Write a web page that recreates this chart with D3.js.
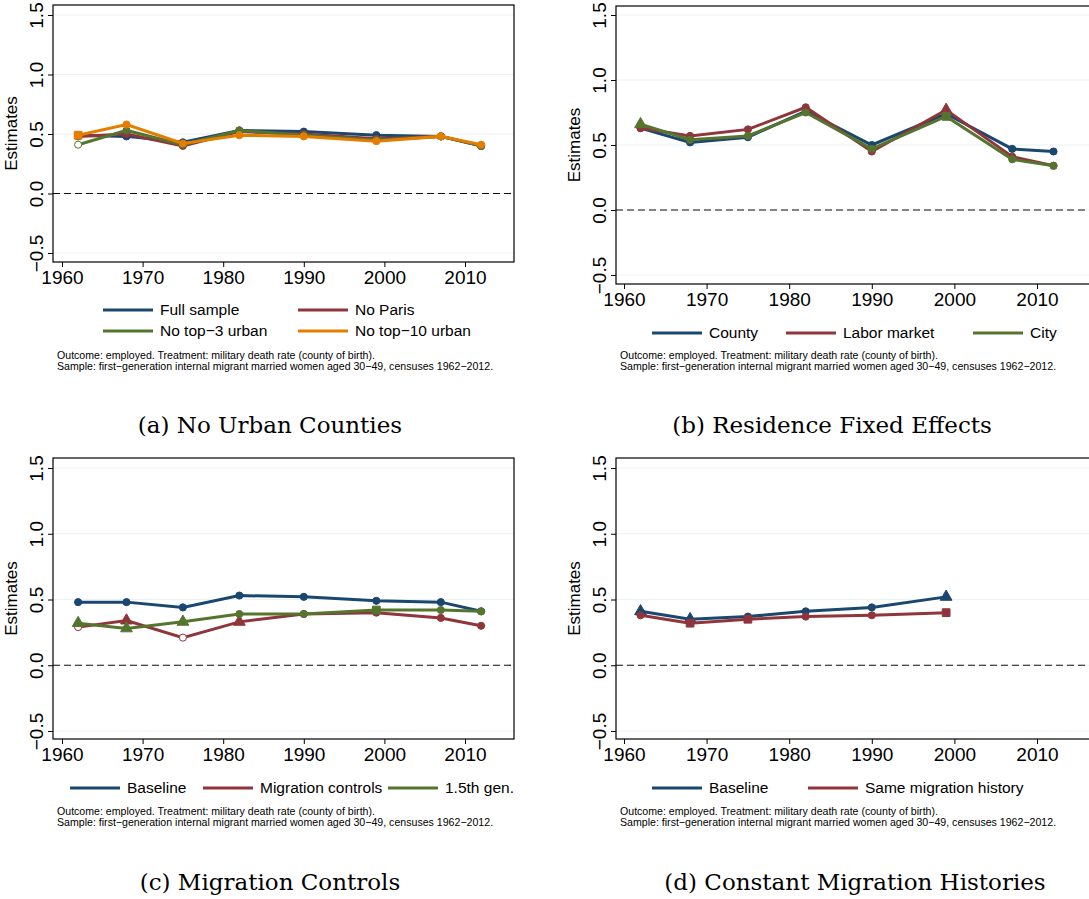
<html>
<head>
<style>
	body{margin:0;background:#fff;}
	svg text{font-family:"Liberation Sans",Arial,sans-serif;}
	svg text.ttl{font-family:"DejaVu Serif",serif;}
	svg .tk text{font-size:19px;}
</style>
</head>
<body>
<svg id="c" width="1089" height="899"></svg>
<script src="https://cdn.jsdelivr.net/npm/d3@7"></script>
<script>
var years = [1962,1968,1975,1982,1990,1999,2007,2012];
var yearsD = [1962,1968,1975,1982,1990,1999];
var xTicks = [1960,1970,1980,1990,2000,2010];
var yTicks = [-0.5,0,0.5,1,1.5];

// panel a
var fullSample = [0.49,0.48,0.43,0.53,0.52,0.49,0.48,0.40];
var noParis    = [0.48,0.50,0.40,0.52,0.50,0.46,0.48,0.40];
var noTop3     = [0.41,0.53,0.41,0.53,0.49,0.45,0.48,0.40];
var noTop10    = [0.49,0.58,0.42,0.49,0.48,0.44,0.48,0.41];
// panel b
var county     = [0.63,0.52,0.56,0.76,0.50,0.74,0.47,0.45];
var laborMkt   = [0.63,0.57,0.62,0.79,0.45,0.77,0.41,0.34];
var city       = [0.66,0.54,0.57,0.75,0.47,0.72,0.39,0.34];
// panel c
var baselineC  = [0.48,0.48,0.44,0.53,0.52,0.49,0.48,0.41];
var migCtrl    = [0.29,0.34,0.21,0.33,0.39,0.40,0.36,0.30];
var gen15      = [0.32,0.28,0.33,0.39,0.39,0.42,0.42,0.41];
// panel d
var baselineD  = [0.41,0.35,0.37,0.41,0.44,0.52];
var sameMig    = [0.38,0.32,0.35,0.37,0.38,0.40];

var BLUE="#1a476f", RED="#90353b", GREEN="#55752f", ORANGE="#e37e00";
var note1="Outcome: employed. Treatment: military death rate (county of birth).";
var note2="Sample: first\u2212generation internal migrant married women aged 30\u221249, censuses 1962\u22122012.";

var svg = d3.select("#c");

function panel(p){
	var g = svg.append("g");
	var x = d3.scaleLinear().domain([1960,2010]).range([p.x0,p.x1]);
	var y = d3.scaleLinear().domain([-0.5,1.5]).range([p.y0,p.y1]);
	// grid
	g.selectAll(".gr").data(yTicks).enter().append("line")
		.attr("x1",p.fl).attr("x2",p.fr).attr("y1",y).attr("y2",y)
		.attr("stroke","#eaf2f3").attr("stroke-width",1.2);
	g.append("line").attr("x1",p.fl).attr("x2",p.fr).attr("y1",y(0)).attr("y2",y(0))
		.attr("stroke","#111").attr("stroke-dasharray","7,4").attr("stroke-width",1.2);
	g.append("rect").attr("x",p.fl).attr("y",p.ft).attr("width",p.fr-p.fl).attr("height",p.fb-p.ft)
		.attr("fill","none").attr("stroke","#000").attr("stroke-width",1.2);
	// y axis (labels rotated like Stata)
	var ya = g.append("g").attr("class","tk").attr("transform","translate("+p.fl+",0)")
		.call(d3.axisLeft(y).tickValues(yTicks).tickSize(5));
	ya.select(".domain").remove();
	ya.selectAll("text").attr("fill","#000")
		.attr("x",0).attr("y",0).attr("dy","0")
		.attr("text-anchor","middle")
		.attr("transform","translate(-10,0) rotate(-90)")
		.text(function(d){return d<0?"\u22120.5":d.toFixed(1);});
	// x axis
	var xa = g.append("g").attr("class","tk").attr("transform","translate(0,"+p.fb+")")
		.call(d3.axisBottom(x).tickValues(xTicks).tickSize(5).tickFormat(d3.format("d")));
	xa.select(".domain").remove();
	xa.selectAll("text").attr("fill","#000").attr("dy","0.75em");
	g.append("text").attr("transform","translate("+(p.fl-36)+","+((p.ft+p.fb)/2)+") rotate(-90)")
		.attr("text-anchor","middle").attr("font-size",17).text("Estimates");
	// series
	var line = d3.line().x(function(d){return x(d[0]);}).y(function(d){return y(d[1]);});
	p.series.forEach(function(s){
		var pts = s.yrs.map(function(yr,i){return [yr,s.v[i]];});
		g.append("path").attr("d",line(pts)).attr("fill","none").attr("stroke",s.c).attr("stroke-width",3);
		g.selectAll(null).data(pts).enter().append("path")
			.attr("transform",function(d){return "translate("+x(d[0])+","+y(d[1])+")";})
			.attr("d",function(d,i){
				var sh = (s.sh && s.sh[i]) || "c";
				var t = sh=="t"?d3.symbolTriangle:sh=="s"?d3.symbolSquare:d3.symbolCircle;
				return d3.symbol().type(t).size(sh=="c"?40:60)();})
			.attr("fill",function(d,i){return (s.hollow && s.hollow[i])?"#fff":s.c;})
			.attr("stroke",s.c).attr("stroke-width",1);
	});
	// legend
	p.leg.forEach(function(l,i){
		var s = p.series[i];
		g.append("line").attr("x1",l[0]).attr("x2",l[0]+50).attr("y1",l[1]).attr("y2",l[1])
			.attr("stroke",s.c).attr("stroke-width",3);
		g.append("text").attr("x",l[0]+57).attr("y",l[1]).attr("dy","0.35em").attr("font-size",15.5).text(s.n);
	});
	g.append("text").attr("x",p.fl+4).attr("y",p.ny).attr("font-size",10.6).text(note1);
	g.append("text").attr("x",p.fl+4).attr("y",p.ny+11).attr("font-size",10.6).text(note2);
	g.append("text").attr("class","ttl").attr("x",p.tx).attr("y",p.ty).attr("text-anchor","middle")
		.attr("font-size",23).text(p.title);
}

panel({x0:62,x1:465,y0:253,y1:15,fl:53,fr:514,ft:5,fb:262,ny:359,tx:270,ty:433,
	title:"(a) No Urban Counties",
	series:[{n:"Full sample",c:BLUE,yrs:years,v:fullSample},
		{n:"No Paris",c:RED,yrs:years,v:noParis},
		{n:"No top\u22123 urban",c:GREEN,yrs:years,v:noTop3,hollow:[1]},
		{n:"No top\u221210 urban",c:ORANGE,yrs:years,v:noTop10,sh:["s"]}],
	leg:[[103,310],[298,310],[103,331],[298,331]]});

panel({x0:624,x1:1037,y0:275,y1:15,fl:616,fr:1095,ft:6,fb:284,ny:359,tx:832,ty:433,
	title:"(b) Residence Fixed Effects",
	series:[{n:"County",c:BLUE,yrs:years,v:county},
		{n:"Labor market",c:RED,yrs:years,v:laborMkt,sh:[0,0,0,0,0,"t"]},
		{n:"City",c:GREEN,yrs:years,v:city,sh:["t",0,0,0,0,"s"]}],
	leg:[[652,333],[786,333],[973,333]]});

panel({x0:62,x1:465,y0:731,y1:468,fl:53,fr:514,ft:458,fb:739,ny:815,tx:270,ty:890,
	title:"(c) Migration Controls",
	series:[{n:"Baseline",c:BLUE,yrs:years,v:baselineC},
		{n:"Migration controls",c:RED,yrs:years,v:migCtrl,hollow:[1,0,1],sh:[0,"t",0,"t"]},
		{n:"1.5th gen.",c:GREEN,yrs:years,v:gen15,sh:["t","t","t",0,0,"s"]}],
	leg:[[70,788],[203,788],[388,788]]});

panel({x0:624,x1:1037,y0:731,y1:468,fl:616,fr:1095,ft:458,fb:739,ny:815,tx:855,ty:890,
	title:"(d) Constant Migration Histories",
	series:[{n:"Baseline",c:BLUE,yrs:yearsD,v:baselineD,sh:["t","t",0,0,0,"t"]},
		{n:"Same migration history",c:RED,yrs:yearsD,v:sameMig,sh:[0,"s","s",0,0,"s"]}],
	leg:[[652,788],[808,788]]});
</script>
</body>
</html>
